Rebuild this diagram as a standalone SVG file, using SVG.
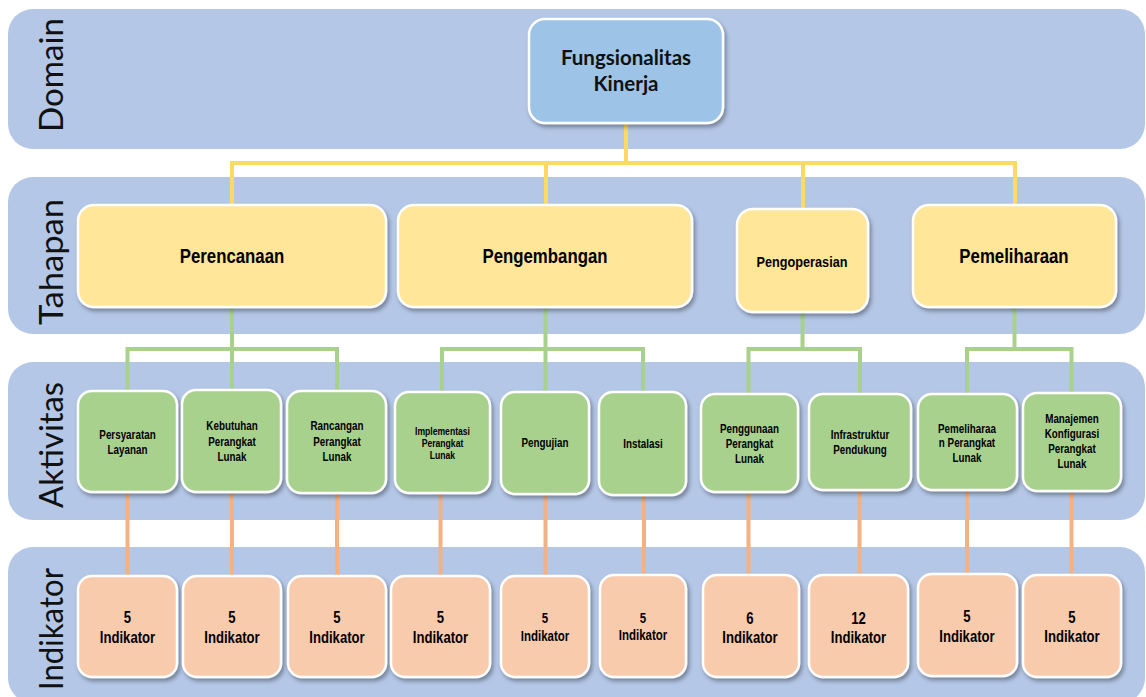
<svg xmlns="http://www.w3.org/2000/svg" width="1146" height="697" viewBox="0 0 1146 697">
<defs>
<filter id="sh" x="-10%" y="-10%" width="130%" height="130%">
<feDropShadow dx="2" dy="3" stdDeviation="2" flood-color="#000" flood-opacity="0.35"/>
</filter>
</defs>
<style>
.band{fill:#B4C7E7}
.lane{font-family:"Lato","Open Sans",sans-serif;font-size:33px;fill:#111;text-anchor:middle}
.box{stroke:#fff;stroke-width:2.5;filter:url(#sh)}
.dom{fill:#9DC3E6}
.tah{fill:#FFE699}
.akt{fill:#A9D18E}
.ind{fill:#F8CBAD}
.t{font-family:"Liberation Sans",Arial,sans-serif;font-weight:bold;text-anchor:middle;fill:#000}
.tc{font-family:"Lato","Liberation Sans",sans-serif;font-weight:bold;text-anchor:middle;fill:#111;font-size:20.5px}
.cy{stroke:#FFD966;stroke-width:4;fill:none}
.cg{stroke:#A9D18E;stroke-width:4;fill:none}
.co{stroke:#F4B183;stroke-width:4;fill:none}
</style>

<g id="lanes">
<rect class="band" x="8" y="9" width="1137" height="140" rx="25"/>
<rect class="band" x="8" y="177" width="1137" height="157" rx="25"/>
<rect class="band" x="8" y="362" width="1137" height="158" rx="25"/>
<rect class="band" x="8" y="547" width="1137" height="156" rx="25"/>
<text class="lane" transform="translate(63,75) rotate(-90)" textLength="114" lengthAdjust="spacingAndGlyphs">Domain</text>
<text class="lane" transform="translate(63,262) rotate(-90)" textLength="126" lengthAdjust="spacingAndGlyphs">Tahapan</text>
<text class="lane" transform="translate(63,445) rotate(-90)" textLength="126" lengthAdjust="spacingAndGlyphs">Aktivitas</text>
<text class="lane" transform="translate(63,629) rotate(-90)" textLength="122" lengthAdjust="spacingAndGlyphs">Indikator</text>
</g>

<g id="connectors">
<path class="cy" d="M626 122V163M232 163H1015M232 161V206M546 161V206M803 161V210M1015 161V206"/>
<path class="cg" d="M232 306V349M127.5 349H337M127.5 347V392M337 347V392M232 349V391"/>
<path class="cg" d="M545.5 306V393M442 349H643M442 347V393M643 347V393"/>
<path class="cg" d="M802.5 311V349M748.5 349H860M748.5 347V395M860 347V395"/>
<path class="cg" d="M1014.5 306V349M967 349H1071.5M967 347V395M1071.5 347V394"/>
<path class="co" d="M127.5 491V577M232 491V577M337 492V577M440.5 492V577M545.5 493V577M644 494V576M748.5 491V576M859.5 489V576M967 489V575M1071.5 490V576"/>
</g>

<g id="fungsionalitas">
<rect class="box dom" x="529" y="19" width="194" height="104" rx="16"/>
<text class="tc" x="626" y="65">Fungsionalitas</text>
<text class="tc" x="626" y="91">Kinerja</text>
</g>

<g id="perencanaan">
<rect class="box tah" x="78" y="205" width="308" height="102" rx="16"/>
<text class="t" transform="translate(41.76,0) scale(0.82,1)" x="232" y="263" font-size="20.5">Perencanaan</text>
</g>
<g id="pengembangan">
<rect class="box tah" x="398" y="205" width="294" height="102" rx="16"/>
<text class="t" transform="translate(98.1,0) scale(0.82,1)" x="545" y="263" font-size="20.5">Pengembangan</text>
</g>
<g id="pengoperasian">
<rect class="box tah" x="737" y="209" width="131" height="103" rx="16"/>
<text class="t" transform="translate(144.36,0) scale(0.82,1)" x="802" y="267" font-size="15.5">Pengoperasian</text>
</g>
<g id="pemeliharaan">
<rect class="box tah" x="913" y="205" width="203" height="102" rx="16"/>
<text class="t" transform="translate(182.52,0) scale(0.82,1)" x="1014" y="263" font-size="20.5">Pemeliharaan</text>
</g>

<g id="a1">
<rect class="box akt" x="78" y="391" width="99" height="101" rx="14"/>
<text class="t" font-size="12" transform="translate(22.95,0) scale(0.82,1)"><tspan x="127.5" y="439">Persyaratan</tspan><tspan x="127.5" y="454">Layanan</tspan></text>
</g>
<g id="a2">
<rect class="box akt" x="182" y="390" width="99" height="102" rx="14"/>
<text class="t" font-size="12" transform="translate(41.76,0) scale(0.82,1)"><tspan x="232" y="430">Kebutuhan</tspan><tspan x="232" y="446">Perangkat</tspan><tspan x="232" y="461">Lunak</tspan></text>
</g>
<g id="a3">
<rect class="box akt" x="287" y="391" width="99" height="102" rx="14"/>
<text class="t" font-size="12" transform="translate(60.66,0) scale(0.82,1)"><tspan x="337" y="430">Rancangan</tspan><tspan x="337" y="446">Perangkat</tspan><tspan x="337" y="461">Lunak</tspan></text>
</g>
<g id="a4">
<rect class="box akt" x="395" y="392" width="95" height="101" rx="14"/>
<text class="t" font-size="10.5" transform="translate(79.65,0) scale(0.82,1)"><tspan x="442.5" y="435">Implementasi</tspan><tspan x="442.5" y="447">Perangkat</tspan><tspan x="442.5" y="459">Lunak</tspan></text>
</g>
<g id="a5">
<rect class="box akt" x="501" y="392" width="88" height="102" rx="14"/>
<text class="t" font-size="12" transform="translate(98.1,0) scale(0.82,1)" x="545" y="447">Pengujian</text>
</g>
<g id="a6">
<rect class="box akt" x="599" y="392" width="87" height="103" rx="14"/>
<text class="t" font-size="12" transform="translate(115.74,0) scale(0.82,1)" x="643" y="448">Instalasi</text>
</g>
<g id="a7">
<rect class="box akt" x="701" y="394" width="97" height="98" rx="14"/>
<text class="t" font-size="12" transform="translate(134.91,0) scale(0.82,1)"><tspan x="749.5" y="433">Penggunaan</tspan><tspan x="749.5" y="448">Perangkat</tspan><tspan x="749.5" y="463">Lunak</tspan></text>
</g>
<g id="a8">
<rect class="box akt" x="809" y="394" width="102" height="96" rx="14"/>
<text class="t" font-size="12" transform="translate(154.8,0) scale(0.82,1)"><tspan x="860" y="439">Infrastruktur</tspan><tspan x="860" y="454">Pendukung</tspan></text>
</g>
<g id="a9">
<rect class="box akt" x="918" y="394" width="99" height="96" rx="14"/>
<text class="t" font-size="12" transform="translate(174.06,0) scale(0.82,1)"><tspan x="967" y="433">Pemeliharaa</tspan><tspan x="967" y="447">n Perangkat</tspan><tspan x="967" y="462">Lunak</tspan></text>
</g>
<g id="a10">
<rect class="box akt" x="1023" y="393" width="98" height="98" rx="14"/>
<text class="t" font-size="12" transform="translate(192.96,0) scale(0.82,1)"><tspan x="1072" y="423">Manajemen</tspan><tspan x="1072" y="438">Konfigurasi</tspan><tspan x="1072" y="453">Perangkat</tspan><tspan x="1072" y="468">Lunak</tspan></text>
</g>

<g id="i1">
<rect class="box ind" x="78" y="576" width="99" height="101" rx="14"/>
<text class="t" font-size="16" transform="translate(22.95,0) scale(0.82,1)"><tspan x="127.5" y="623">5</tspan><tspan x="127.5" y="643">Indikator</tspan></text>
</g>
<g id="i2">
<rect class="box ind" x="183" y="576" width="98" height="101" rx="14"/>
<text class="t" font-size="16" transform="translate(41.76,0) scale(0.82,1)"><tspan x="232" y="623">5</tspan><tspan x="232" y="643">Indikator</tspan></text>
</g>
<g id="i3">
<rect class="box ind" x="288" y="576" width="98" height="101" rx="14"/>
<text class="t" font-size="16" transform="translate(60.66,0) scale(0.82,1)"><tspan x="337" y="623">5</tspan><tspan x="337" y="643">Indikator</tspan></text>
</g>
<g id="i4">
<rect class="box ind" x="391" y="576" width="99" height="101" rx="14"/>
<text class="t" font-size="16" transform="translate(79.29,0) scale(0.82,1)"><tspan x="440.5" y="623">5</tspan><tspan x="440.5" y="643">Indikator</tspan></text>
</g>
<g id="i5">
<rect class="box ind" x="501" y="576" width="88" height="101" rx="14"/>
<text class="t" font-size="14" transform="translate(98.1,0) scale(0.82,1)"><tspan x="545" y="623">5</tspan><tspan x="545" y="641">Indikator</tspan></text>
</g>
<g id="i6">
<rect class="box ind" x="600" y="575" width="86" height="102" rx="14"/>
<text class="t" font-size="14" transform="translate(115.74,0) scale(0.82,1)"><tspan x="643" y="623">5</tspan><tspan x="643" y="640">Indikator</tspan></text>
</g>
<g id="i7">
<rect class="box ind" x="703" y="575" width="96" height="102" rx="14"/>
<text class="t" font-size="16" transform="translate(135,0) scale(0.82,1)"><tspan x="750" y="624">6</tspan><tspan x="750" y="643">Indikator</tspan></text>
</g>
<g id="i8">
<rect class="box ind" x="809" y="575" width="99" height="102" rx="14"/>
<text class="t" font-size="16" transform="translate(154.53,0) scale(0.82,1)"><tspan x="858.5" y="624">12</tspan><tspan x="858.5" y="643">Indikator</tspan></text>
</g>
<g id="i9">
<rect class="box ind" x="918" y="574" width="99" height="102" rx="14"/>
<text class="t" font-size="16" transform="translate(174.06,0) scale(0.82,1)"><tspan x="967" y="622">5</tspan><tspan x="967" y="642">Indikator</tspan></text>
</g>
<g id="i10">
<rect class="box ind" x="1023" y="575" width="98" height="102" rx="14"/>
<text class="t" font-size="16" transform="translate(192.96,0) scale(0.82,1)"><tspan x="1072" y="623">5</tspan><tspan x="1072" y="642">Indikator</tspan></text>
</g>
</svg>
